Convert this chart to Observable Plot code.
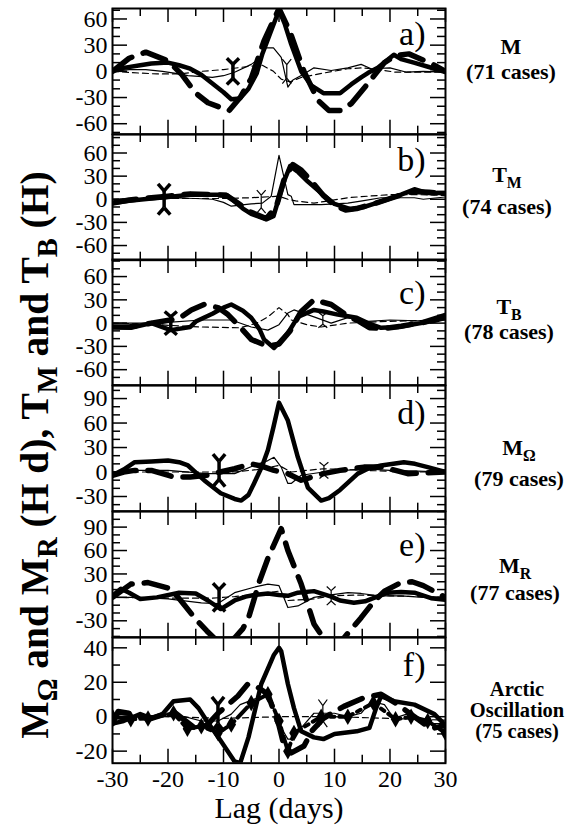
<!DOCTYPE html>
<html><head><meta charset="utf-8">
<script src="https://cdn.jsdelivr.net/npm/d3@7"></script>
<script src="https://cdn.jsdelivr.net/npm/@observablehq/plot@0.6"></script>
<style>
body{margin:0;background:#fff;}
#root{position:relative;width:571px;height:826px;overflow:hidden;font-family:"Liberation Serif","Times New Roman",serif;color:#000;}
.panel{position:absolute;left:0;}
.rl{position:absolute;width:160px;text-align:center;font-weight:bold;white-space:nowrap;font-family:"Liberation Serif","Times New Roman",serif;}
.rl sub{font-size:0.72em;vertical-align:-0.35em;line-height:0;}
#ytitle{position:absolute;white-space:nowrap;font-weight:bold;font-size:39.5px;line-height:40px;transform:translate(-50%,-50%) rotate(-90deg);}
#ytitle sub{font-size:0.72em;vertical-align:-0.3em;line-height:0;}
</style></head>
<body><div id="root"></div>
<script>
// ---------------- data ----------------
const panelTags = ["a)", "b)", "c)", "d)", "e)", "f)"];
const caseCounts = [71, 74, 78, 79, 77, 75];
const yDomains = [[-72, 72], [-79, 84], [-80, 82], [-48, 106], [-51, 110], [-27, 46]];
const yTickLabels = [[60, 30, 0, -30, -60], [60, 30, 0, -30, -60], [60, 30, 0, -30, -60], [90, 60, 30, 0, -30], [90, 60, 30, 0, -30], [40, 20, 0, -20]];
const xTickLabels = [-30, -20, -10, 0, 10, 20, 30];

// panel a (M)
const aThickSolid = [[-30,0],[-28,4],[-25,7],[-23,9],[-20,10],[-18,7],[-16,3],[-14,-4],[-12,-14],[-10,-24],[-8.6,-32],[-7,-31],[-5.5,-20],[-4,-2],[-3,20],[-1.5,45],[0,70],[1,55],[2.2,31],[4,0],[5.8,-16],[8,-25],[11,-25],[13,-15],[14.8,-7],[16,-2],[17.8,4],[20.7,19],[22,14],[24.3,10],[27,5],[30,-1]];
const aThickDashed = [[-30,0],[-27,15],[-24,22],[-20,12],[-17.6,-3],[-15,-25],[-12.8,-36],[-9,-45],[-7,-30],[-5,-8],[-2.7,35],[0,72],[2,45],[4.5,0],[7,-33],[9,-45],[11,-45],[13,-37],[16,-14],[19,10],[21,18],[23.4,20],[27.4,9],[30,0]];
const aThinSolid = [[-30,0],[-27,2],[-24,2],[-21,0],[-18,-3],[-16.4,-5],[-12,-7],[-10,-5],[-8,-1],[-5,8],[-3.5,15],[-2.7,27],[-1,27],[0.4,16],[1.6,-18],[2.5,-10],[4.5,-3],[6.3,4],[9.4,1],[12.4,4],[14.8,8],[16.6,3],[20,4],[23,-1],[26,0],[30,-1]];
const aThinDashed = [[-30,0],[-25,-2],[-22,-3],[-18,-3],[-14,0],[-10,2],[-5,6],[-3,7],[-1,0],[0.4,-9],[2,-12],[4,-7],[8,-2],[12.4,3],[15,4],[18,2],[21,-1],[25,-1],[30,-1]];
const aMarkThick = [[-8.3, 0, 15]];
const aMarkThin = [[1.4, 0, 14]];

// panel b (T_M)
const bThickSolid = [[-30,-5],[-27,-2],[-23,1],[-20,3],[-16,6],[-12,6],[-9.5,6],[-8,-3],[-6.5,-12],[-5,-19],[-3.5,-23],[-2.3,-26],[-1,-22],[0,2],[1,25],[2,43],[3.5,35],[5.2,23],[7.6,8],[10,-6],[13,-13],[15.3,-10],[17.5,-5],[19.6,0],[22,6],[24.4,13],[26.8,8],[30,8]];
const bThickDashed = [[-30,-5],[-27,-1],[-23,2],[-20,4],[-16,7],[-12,6],[-9.5,5],[-8,-2],[-5,-17],[-2.3,-25],[-0.5,-10],[1,28],[2.5,45],[4,38],[6,22],[8,5],[10,-8],[12,-14],[14,-12],[17,-6],[20,1],[24,10],[27,9],[30,7]];
const bThinSolid = [[-30,0],[-25,1],[-20,2],[-15,1],[-12,0],[-10,-4],[-8.6,-9],[-5,-6],[-3,-5],[-1.4,4],[0,57],[1.6,6],[2.2,4],[2.7,-7],[7.6,-7],[12.4,-5],[15,-2],[18.4,2],[24.4,2],[26,0],[30,3]];
const bThinDashed = [[-30,0],[-20,1],[-10,1],[-5,2],[0,4],[1.6,0],[3,-2],[6.3,-5],[9,-2],[12.4,2],[16,4],[20,6],[25,6],[30,5]];
const bMarkThick = [[-20.7, 0, 20]];
const bMarkThin = [[-3.2, -3, 15]];

// panel c (T_B)
const cThickSolid = [[-30,-5],[-26.7,-6],[-23,0],[-19.5,-9],[-16,-5],[-15,2],[-12,12],[-10,20],[-8.6,24],[-6.5,16],[-5,7],[-3.5,-8],[-2.7,-21],[-0.9,-32],[0.4,-22],[1.6,-13],[3.4,8],[6.3,17],[8,15],[10.6,11],[14,7],[16,0],[18.4,-6],[21.4,-5],[25.6,0],[28,3],[30,7]];
const cThickDashed = [[-30,-5],[-27,-5],[-23,0],[-18,6],[-15.8,17],[-13.5,24],[-11,20],[-9.2,11],[-7,-5],[-5,-21],[-2,-30],[0,-27],[2,-10],[4,15],[6.3,30],[9.4,24],[12.4,9],[14.5,2],[16.3,-6],[19,-7],[22,-4],[26,1],[30,10]];
const cThinSolid = [[-30,0],[-25,0],[-20,1],[-14,4],[-8.6,4],[-5,-5],[-2,-9],[0,-2],[1.6,13],[2.7,17],[6.3,8],[9.4,0],[12.4,7],[15.3,2],[20,4],[25,3],[30,5]];
const cThinDashed = [[-30,0],[-22,-2],[-14,-5],[-7,-6],[-4,0],[-2,8],[0,20],[1.6,11],[2.2,4],[5,-2],[7.6,-5],[12.4,0],[18.4,2],[24,3],[30,4]];
const cMarkThick = [[-19.5, 0, 15]];
const cMarkThin = [[7.9, 4, 10]];

// panel d (M_Omega)
const dThickSolid = [[-30,-4],[-28,3],[-26,12],[-23,13],[-20,14],[-18,12],[-16.4,8],[-13.5,-10],[-10.5,-26],[-8,-33],[-6.8,-35],[-5.5,-28],[-4.5,-14],[-3,8],[-2,27],[-1,55],[0,85],[1.6,63],[3.4,18],[5.2,-19],[7.6,-35],[9,-32],[11,-22],[14.2,-2],[16,4],[18.4,8],[22.5,12],[24.5,10],[26.8,6],[30,0]];
const dThickDashed = [[-30,-4],[-28,0],[-26,2],[-23,2],[-19,-6],[-16,-6],[-12.8,-4],[-10,1],[-8,4],[-5,10],[-3,7],[-0.9,2],[1.6,-2],[4,-10],[6,-6],[8,-2],[11,2],[15.3,6],[18.4,6],[21,2],[23.2,-2],[26,-1],[30,0]];
const dThinSolid = [[-30,0],[-26.7,2],[-20,2],[-13,-2],[-8,-2],[-4.5,8],[-2,14],[-0.9,18],[0.4,6],[1.6,-14],[2.2,-14],[4,-4],[8,0],[12,2],[15.3,4],[20,2],[25,1],[30,0]];
const dThinDashed = [[-30,0],[-20,0],[-12,0],[-8,0],[-4,3],[0,8],[2.2,0],[5,2],[8,4],[12,3],[15.3,2],[20,1],[25,0],[30,0]];
const dMarkThick = [[-10.8, 2, 20]];
const dMarkThin = [[8.1, 2, 10]];

// panel e (M_R)
const eThickSolid = [[-30,2],[-28.5,11],[-27,6],[-25,-2],[-22,0],[-18,6],[-15,5],[-12.8,-4],[-10.5,-15],[-8,-4],[-6,1],[-4.5,3],[-2,5],[0,3],[1.6,2],[3.4,6],[6.3,8],[9.4,1],[11,-4],[13.5,-7],[15.5,-5],[17,-1],[19.6,6],[22,7],[24.4,6],[27.4,-1],[30,-3]];
const eThickDashed = [[-30,0],[-26.7,17],[-23.6,19],[-19.5,11],[-17.7,-4],[-15,-28],[-13,-43],[-11.7,-52],[-10,-60],[-8,-52],[-6.5,-40],[-5.4,-24],[-3.5,21],[-2,50],[0.4,88],[1.6,60],[4,17],[6.3,-34],[8,-52],[10,-60],[11.7,-52],[14.8,-26],[17,-6],[19,8],[22,19],[24,20],[26,15],[30,0]];
const eThinSolid = [[-30,0],[-25,0],[-20,-2],[-14,-7],[-11,-8],[-8,6],[-4.5,13],[-2,17],[0,15],[1.6,-13],[3.4,-11],[6.3,0],[8,2],[12.4,6],[14.8,5],[18,2],[22,2],[26,0],[30,0]];
const eThinDashed = [[-30,0],[-20,-1],[-12,-1],[-8,1],[-4,4],[0,8],[1.6,-4],[6.3,-2],[9.4,2],[14,3],[20,2],[25,1],[30,0]];
const eMarkThick = [[-10.8, 0, 18]];
const eMarkThin = [[9.4, 2, 12]];

// panel f (Arctic Oscillation)
const fThickSolid = [[-30,-4],[-28,-2.5],[-25,1.5],[-23,-1],[-21,1.5],[-19,9],[-16,10],[-14.5,5],[-13,-2.5],[-10.5,-14],[-8,-26],[-7,-27],[-5.5,-12],[-3.2,19],[-0.9,36],[0,40],[0.4,38],[1.6,19],[2.7,5],[4,-8.5],[6.3,-12],[8,-13],[10,-10],[14,-8.5],[16.3,-6.5],[17.5,5],[18.4,12],[20.7,9],[24.4,7],[28,1.5],[30,-5]];
const fThickDashed = [[-30,-4],[-29,3],[-27,2],[-25,0],[-23,-1],[-21,1],[-19,3],[-17,-2],[-15,-7],[-13,-5],[-11,2],[-7.4,12],[-5.6,19],[-3.8,17],[-2,13],[0,-5],[1,-18],[2.2,-21],[4.5,-17],[6,-8],[8,-1],[10,3],[11.7,6],[15.3,11],[18.4,13],[21,8],[24.4,0],[27.4,-7],[30,-5]];
const fDiamond = [[-30,0],[-26.7,-1.5],[-23.6,-1],[-19,2],[-16.5,-7],[-14,-5.5],[-11,-9.5],[-8.6,-4.5],[-5,8],[-2,13],[0,-2.5],[1.6,-20],[2.7,-9.5],[7.6,0],[12.4,0],[17,8],[21,-1.5],[23.8,0],[26.8,-2.5],[30,-9.5]];
const fThinSolid = [[-30,0],[-25,1],[-20,0],[-17,0],[-14,-2.5],[-11,-2.5],[-8.6,1.5],[-7,7],[-3.8,11],[-2,13],[0.4,-6.5],[1.6,-13],[2.2,-13],[4,-6.5],[6.3,2],[10,2],[12.4,0],[14.8,2],[16.6,9],[19,7],[20.7,-1],[23,1.5],[26,-4],[30,-4]];
const fThinDashed = [[-30,0],[-20,0],[-10,-1],[0,0],[5,0],[10,0],[20,-1],[30,-2]];
const fMarkThick = [[-11, 1.5, 10]];
const fMarkThin = [[7.9, 2, 8]];

const series = [
  {thickSolid:aThickSolid, thickDashed:aThickDashed, thinSolid:aThinSolid, thinDashed:aThinDashed, markThick:aMarkThick, markThin:aMarkThin},
  {thickSolid:bThickSolid, thickDashed:bThickDashed, thinSolid:bThinSolid, thinDashed:bThinDashed, markThick:bMarkThick, markThin:bMarkThin},
  {thickSolid:cThickSolid, thickDashed:cThickDashed, thinSolid:cThinSolid, thinDashed:cThinDashed, markThick:cMarkThick, markThin:cMarkThin},
  {thickSolid:dThickSolid, thickDashed:dThickDashed, thinSolid:dThinSolid, thinDashed:dThinDashed, markThick:dMarkThick, markThin:dMarkThin},
  {thickSolid:eThickSolid, thickDashed:eThickDashed, thinSolid:eThinSolid, thinDashed:eThinDashed, markThick:eMarkThick, markThin:eMarkThin},
  {thickSolid:fThickSolid, thickDashed:fThickDashed, thinSolid:fThinSolid, thinDashed:fThinDashed, markThick:fMarkThick, markThin:fMarkThin, diamond:fDiamond}
];

// right-hand labels (text)
const rightLabels = [
  ["M", "", `(${caseCounts[0]} cases)`],
  ["T", "M", `(${caseCounts[1]} cases)`],
  ["T", "B", `(${caseCounts[2]} cases)`],
  ["M", "Ω", `(${caseCounts[3]} cases)`],
  ["M", "R", `(${caseCounts[4]} cases)`]
];
const aoLabel = ["Arctic", "Oscillation", `(${caseCounts[5]} cases)`];

// ---------------- layout ----------------
const LAY = {x0:112, x1:445, W:571, tops:[8,133.7,259.4,385.1,510.8,636.5], bottom:762.2, bottomMargin:63};
const tagDy = [12, 12, 20, 14, 20, 14];
const rightFirstBase = [54, 182, 314, 455, 573];
const rightLineH = [25, 32, 25, 31, 27];
const rightCx = [511, 507, 509, 519, 515];
const rightFs = 22;
const aoFirstBase = 696, aoLineH = 21, aoFs = 20.5;

const root = document.getElementById("root");
const P = d => d[0], V = d => d[1];
const fmt = d => String(d);

function markSegs(marks, w) {
  const segs = [];
  for (const [x, y, h] of marks) {
    const k = 0.55 * h;
    segs.push([x - w, y + h, x, y + k], [x + w, y + h, x, y + k], [x, y + k, x, y - k], [x - w, y - h, x, y - k], [x + w, y - h, x, y - k]);
  }
  return segs;
}

function mkPanel(i) {
  const top = LAY.tops[i];
  const bot = i < 5 ? LAY.tops[i + 1] : LAY.bottom;
  const h = bot - top;
  const last = i === 5;
  const dom = yDomains[i];
  const pxY = h / (dom[1] - dom[0]);
  const pxX = (LAY.x1 - LAY.x0) / 60;
  const majors = yTickLabels[i];
  const yt = d3.range(Math.ceil(dom[0] / 10) * 10, dom[1] + 1e-6, 10);
  const ylen = v => majors.includes(v) ? 15 : 8;
  const xt = d3.range(-30, 31, 5);
  const xlen = v => v % 10 === 0 ? 14 : 8;
  const s = series[i];
  const marks = [
    Plot.ruleY(yt, {y: d => d, x1: -30, x2: d => -30 + ylen(d) / pxX, strokeWidth: 1.5}),
    Plot.ruleY(yt, {y: d => d, x1: d => 30 - ylen(d) / pxX, x2: 30, strokeWidth: 1.5}),
    Plot.ruleX(xt, {x: d => d, y1: dom[1], y2: d => dom[1] - xlen(d) / pxY, strokeWidth: 1.5}),
    Plot.ruleX(xt, {x: d => d, y1: dom[0], y2: d => dom[0] + xlen(d) / pxY, strokeWidth: 1.5}),
    Plot.axisY(majors, {anchor: "left", tickSize: 0, tickPadding: 5, fontSize: 24, label: null, tickFormat: fmt}),
    Plot.line(s.thinDashed, {x: P, y: V, stroke: "black", strokeWidth: 1.2, strokeDasharray: "6,4", clip: true}),
    Plot.line(s.thinSolid, {x: P, y: V, stroke: "black", strokeWidth: 1.2, clip: true}),
  ];
  if (s.diamond) {
    marks.push(Plot.line(s.diamond, {x: P, y: V, stroke: "black", strokeWidth: 4, strokeDasharray: "14,5,4,5", clip: true}));
    marks.push(Plot.dot(s.diamond, {x: P, y: V, symbol: "diamond", r: 5, fill: "black", clip: true}));
  }
  marks.push(
    Plot.line(s.thickDashed, {x: P, y: V, stroke: "black", strokeWidth: 5.5, strokeDasharray: "24,12", clip: true}),
    Plot.line(s.thickSolid, {x: P, y: V, stroke: "black", strokeWidth: 4.5, strokeLinejoin: "round", clip: true}),
    Plot.link(markSegs(s.markThick, 1.1), {x1: d => d[0], y1: d => d[1], x2: d => d[2], y2: d => d[3], stroke: "black", strokeWidth: 3.5}),
    Plot.link(markSegs(s.markThin, 0.8), {x1: d => d[0], y1: d => d[1], x2: d => d[2], y2: d => d[3], stroke: "black", strokeWidth: 1.2}),
    Plot.frame({stroke: "black", strokeWidth: 2}),
    Plot.text([panelTags[i]], {text: d => d, frameAnchor: "top-right", dx: -20, dy: tagDy[i], lineAnchor: "top", textAnchor: "end", fontSize: 34})
  );
  if (last) {
    marks.push(
      Plot.axisX(xTickLabels, {anchor: "bottom", tickSize: 0, tickPadding: 7, fontSize: 24, label: null, tickFormat: fmt}),
      Plot.text(["Lag (days)"], {text: d => d, frameAnchor: "bottom", dy: 45, lineAnchor: "middle", fontSize: 30})
    );
  }
  const chart = Plot.plot({
    width: LAY.W,
    height: h + (last ? LAY.bottomMargin : 0),
    marginLeft: LAY.x0,
    marginRight: LAY.W - LAY.x1,
    marginTop: 0,
    marginBottom: last ? LAY.bottomMargin : 0,
    x: {domain: [-30, 30], axis: null},
    y: {domain: dom, axis: null},
    style: {fontFamily: "Liberation Serif, Times New Roman, serif", fontSize: "24px", overflow: "visible", background: "transparent", color: "black"},
    marks
  });
  const div = document.createElement("div");
  div.className = "panel";
  div.style.top = top + "px";
  div.appendChild(chart);
  root.appendChild(div);
}

for (let i = 0; i < 6; i++) mkPanel(i);

// y-axis title
const yt = document.createElement("div");
yt.id = "ytitle";
yt.innerHTML = "M<sub>Ω</sub> and M<sub>R</sub> (H d), T<sub>M</sub> and T<sub>B</sub> (H)";
yt.style.left = "35px";
yt.style.top = "455px";
root.appendChild(yt);

// right labels: one block per panel
function addBlock(lines, cx, firstBase, lineH, fs) {
  const d = document.createElement("div");
  d.className = "rl";
  d.style.fontSize = fs + "px";
  d.style.lineHeight = lineH + "px";
  d.innerHTML = lines.join("<br>");
  d.style.left = (cx - 80) + "px";
  const asc = 0.891 * fs, content = 1.107 * fs;
  d.style.top = (firstBase - asc - (lineH - content) / 2) + "px";
  root.appendChild(d);
}
rightLabels.forEach((l, i) => {
  addBlock([l[0] + (l[1] ? `<sub>${l[1]}</sub>` : ""), l[2]], rightCx[i], rightFirstBase[i], rightLineH[i], rightFs);
});
addBlock(aoLabel, 517, aoFirstBase, aoLineH, aoFs);
</script>
</body></html>
